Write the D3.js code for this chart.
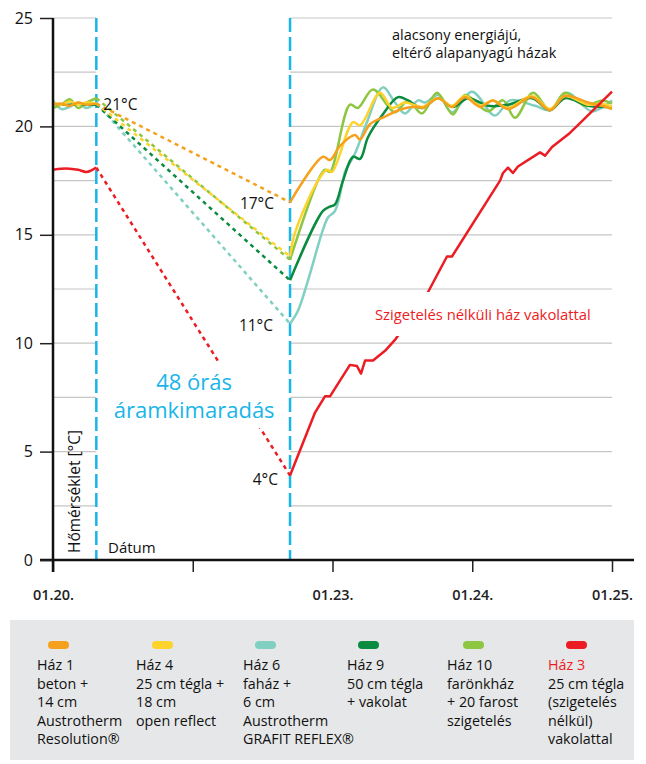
<!DOCTYPE html>
<html>
<head>
<meta charset="utf-8">
<script src="https://cdn.jsdelivr.net/npm/d3@7"></script>
<style>
  body { margin: 0; background: #fff; }
  svg text { font-family: "Open Sans", "Noto Sans", sans-serif; }
</style>
</head>
<body>
<div id="chart"></div>
<script>
// chart size, same as the window
const svgWidth = 646;
const svgHeight = 764;

// x is in "days" along the axis, y in degrees C
const xTickVals = [0, 1, 2, 3, 4];
const xTickLabels = ["01.20.", "", "01.23.", "01.24.", "01.25."];
const yTickVals = [0, 5, 10, 15, 20, 25];
const gridVals = [2.5, 5, 7.5, 10, 12.5, 15, 17.5, 20, 22.5, 25];

// start and end of the 48 hour power cut
const outage = [0.31, 1.696];

// readings before the power cut
const preX = [0, 0.06, 0.12, 0.18, 0.24, 0.31];
const haz1Pre = [21.0, 21.05, 20.95, 21.1, 21.0, 21.05];
const haz4Pre = [21.1, 21.0, 21.15, 21.0, 21.1, 21.05];
const haz6Pre = [21.2, 20.8, 20.9, 21.1, 20.85, 21.1];
const haz9Pre = [21.05, 21.0, 21.0, 21.05, 21.0, 21.0];
const haz10Pre = [20.85, 21.0, 21.25, 20.85, 21.1, 21.3];
const haz3Pre = [18.0, 18.05, 18.05, 18.0, 17.9, 18.1];

// readings after the power came back [x, temp]
const haz1Post = [[1.696,16.5],[1.932,18.6],[1.982,18.45],[2.054,19.1],[2.161,19.6],[2.197,19.4],[2.268,20.1],[2.376,20.45],[2.497,20.8],[2.612,20.9],[2.648,20.85],[2.755,21.3],[2.855,20.9],[2.948,21.35],[3.055,20.9],[3.148,21.2],[3.256,20.8],[3.428,21.35],[3.556,20.75],[3.664,21.4],[3.828,21.1],[3.928,20.95],[4.0,20.8]];
const haz4Post = [[1.696,14.0],[1.732,15.1],[1.896,17.5],[1.961,18.0],[1.996,17.9],[2.147,20.2],[2.197,20.05],[2.34,21.55],[2.426,20.85],[2.519,21.1],[2.64,20.9],[2.755,21.3],[2.855,20.95],[2.948,21.4],[3.055,20.95],[3.148,21.2],[3.256,20.85],[3.428,21.4],[3.556,20.8],[3.664,21.4],[3.828,21.0],[3.928,21.05],[4.0,20.9]];
const haz6Post = [[1.696,10.9],[1.753,11.5],[1.825,12.9],[1.925,15.1],[1.968,15.8],[2.018,16.1],[2.075,17.5],[2.089,17.9],[2.161,18.75],[2.247,20.2],[2.361,21.8],[2.447,21.1],[2.519,20.6],[2.612,21.2],[2.662,21.1],[2.755,21.45],[2.855,20.65],[2.998,21.6],[3.162,20.5],[3.27,21.2],[3.449,20.95],[3.556,20.75],[3.678,21.55],[3.857,20.7],[4.0,21.2]];
const haz9Post = [[1.696,12.9],[1.932,16.1],[1.982,16.3],[2.018,16.4],[2.075,17.5],[2.147,18.6],[2.197,18.5],[2.254,19.5],[2.354,20.5],[2.469,21.35],[2.54,21.2],[2.64,20.85],[2.755,21.3],[2.862,20.9],[2.97,21.3],[3.113,20.95],[3.256,21.0],[3.428,21.3],[3.556,20.75],[3.664,21.3],[3.828,20.95],[4.0,20.9]];
const haz10Post = [[1.696,13.85],[1.896,17.5],[1.946,18.0],[1.982,17.9],[2.125,21.0],[2.182,20.85],[2.29,21.7],[2.447,20.65],[2.54,21.2],[2.64,20.6],[2.748,21.55],[2.862,20.55],[2.948,21.45],[3.113,20.7],[3.22,21.2],[3.306,20.4],[3.435,21.55],[3.556,20.75],[3.664,21.55],[3.807,20.95],[3.928,21.2],[4.0,21.05]];
const haz3Post = [[1.696,3.9],[1.875,6.8],[1.946,7.55],[1.982,7.55],[2.125,9.0],[2.175,8.95],[2.204,8.6],[2.233,9.2],[2.29,9.2],[2.376,9.65],[2.447,10.15],[2.683,12.35],[2.819,14.0],[2.855,14.0],[3.199,17.5],[3.22,17.85],[3.256,18.1],[3.291,17.85],[3.327,18.15],[3.485,18.8],[3.521,18.65],[3.571,19.05],[3.699,19.7],[3.771,20.15],[4.0,21.6]];

// legend texts
const legendNames = ["Ház 1", "Ház 4", "Ház 6", "Ház 9", "Ház 10", "Ház 3"];
const legendLines = [
    ["beton +", "14 cm", "Austrotherm", "Resolution®"],
    ["25 cm tégla +", "18 cm", "open reflect"],
    ["faház +", "6 cm", "Austrotherm", "GRAFIT REFLEX®"],
    ["50 cm tégla", "+ vakolat"],
    ["farönkház", "+ 20 farost", "szigetelés"],
    ["25 cm tégla", "(szigetelés", "nélkül)", "vakolattal"]
];

const colors = {
    "Ház 1": "#f6a11d",
    "Ház 4": "#fdd32c",
    "Ház 6": "#80cfc1",
    "Ház 9": "#0b8b3f",
    "Ház 10": "#8dc641",
    "Ház 3": "#ec1c24"
};
const blue = "#19b5e9";

// group everything per house, drawing order matters (orange on top, red last)
const houses = [
    { name: "Ház 6", pre: haz6Pre, post: haz6Post },
    { name: "Ház 10", pre: haz10Pre, post: haz10Post },
    { name: "Ház 9", pre: haz9Pre, post: haz9Post },
    { name: "Ház 4", pre: haz4Pre, post: haz4Post },
    { name: "Ház 1", pre: haz1Pre, post: haz1Post },
    { name: "Ház 3", pre: haz3Pre, post: haz3Post }
];

const svg = d3.select("#chart")
    .append("svg")
    .attr("width", svgWidth)
    .attr("height", svgHeight);

const x = d3.scaleLinear().domain([0, 4]).range([53, 612]);
const y = d3.scaleLinear().domain([0, 25]).range([560, 18]);

// grid lines, left out inside the power cut zone
gridVals.forEach(function (g) {
    [[0, outage[0]], [outage[1], 4]].forEach(function (seg) {
        svg.append("line")
            .attr("x1", x(seg[0])).attr("x2", x(seg[1]))
            .attr("y1", y(g)).attr("y2", y(g))
            .attr("stroke", "#c6c6c6")
            .attr("stroke-width", 1.2);
    });
});

// blue dashed lines of the power cut
outage.forEach(function (o) {
    svg.append("line")
        .attr("x1", x(o)).attr("x2", x(o))
        .attr("y1", y(25)).attr("y2", y(0))
        .attr("stroke", blue)
        .attr("stroke-width", 2.5)
        .attr("stroke-dasharray", "14,5");
});

// texts that cut the red line
const midOut = x((outage[0] + outage[1]) / 2) + 1;
const outText1 = svg.append("text")
    .attr("x", midOut).attr("y", 390)
    .attr("text-anchor", "middle")
    .attr("fill", blue)
    .attr("font-size", "22px")
    .text("48 órás");
const outText2 = svg.append("text")
    .attr("x", midOut).attr("y", 418)
    .attr("text-anchor", "middle")
    .attr("fill", blue)
    .attr("font-size", "22px")
    .text("áramkimaradás");

const redText = svg.append("text")
    .attr("x", 375)
    .attr("y", 320)
    .attr("fill", colors["Ház 3"])
    .attr("font-size", "14.8px")
    .text("Szigetelés nélküli ház vakolattal");

// mask so the red line stops around the texts
const defs = svg.append("defs");
const mask = defs.append("mask").attr("id", "redGap")
    .attr("maskUnits", "userSpaceOnUse")
    .attr("x", 0).attr("y", 0).attr("width", svgWidth).attr("height", svgHeight);
mask.append("rect").attr("width", svgWidth).attr("height", svgHeight).attr("fill", "white");
[[outText1, 4], [outText2, 4], [redText, 12]].forEach(function (t) {
    const b = t[0].node().getBBox();
    mask.append("rect")
        .attr("x", b.x - 4).attr("y", b.y - t[1])
        .attr("width", b.width + 8).attr("height", b.height + 2 * t[1])
        .attr("fill", "black");
});

const line = d3.line().x(d => x(d[0])).y(d => y(d[1]));
const smooth = d3.line().x(d => x(d[0])).y(d => y(d[1])).curve(d3.curveCatmullRom.alpha(0.5));

houses.forEach(function (h) {
    const g = svg.append("g");
    if (h.name == "Ház 3") {
        g.attr("mask", "url(#redGap)");
    }
    const prePts = preX.map((v, i) => [v, h.pre[i]]);
    // dashed line during the power cut
    g.append("path")
        .attr("d", line([prePts[prePts.length - 1], h.post[0]]))
        .attr("fill", "none")
        .attr("stroke", colors[h.name])
        .attr("stroke-width", 2.5)
        .attr("stroke-dasharray", "4,4");
    g.append("path")
        .attr("d", smooth(prePts))
        .attr("fill", "none")
        .attr("stroke", colors[h.name])
        .attr("stroke-width", 2.5);
    g.append("path")
        .attr("d", h.name == "Ház 3" ? line(h.post) : smooth(h.post))
        .attr("fill", "none")
        .attr("stroke", colors[h.name])
        .attr("stroke-width", 2.5)
        .attr("stroke-linejoin", "round");
});

// value labels
function label(txt, px, py, anchor) {
    svg.append("text")
        .attr("x", px).attr("y", py)
        .attr("text-anchor", anchor)
        .attr("font-size", "15.5px")
        .attr("fill", "#111")
        .text(txt);
}
label("21°C", x(outage[0]) + 7, y(21) + 5, "start");
label("17°C", x(outage[1]) - 16, y(16.5) + 7, "end");
label("11°C", x(outage[1]) - 17, y(10.9) + 7, "end");
label("4°C", x(outage[1]) - 12, y(3.9) + 10, "end");

svg.append("text")
    .attr("x", 392).attr("y", 40)
    .attr("font-size", "14.5px")
    .attr("fill", "#111")
    .text("alacsony energiájú,");
svg.append("text")
    .attr("x", 392).attr("y", 58)
    .attr("font-size", "14.5px")
    .attr("fill", "#111")
    .text("eltérő alapanyagú házak");

// axes
const xAxis = svg.append("g")
    .attr("transform", `translate(0,${y(0)})`)
    .call(d3.axisBottom(x).tickValues(xTickVals).tickFormat((d, i) => xTickLabels[i]).tickSize(12).tickPadding(18));
xAxis.select(".domain").remove();
xAxis.selectAll(".tick line").attr("stroke", "#222").attr("stroke-width", 1.5);
xAxis.selectAll(".tick text")
    .attr("font-size", "14.5px")
    .attr("font-weight", "600")
    .attr("fill", "#222")
    .attr("font-family", "'Open Sans', sans-serif");

svg.append("line")
    .attr("x1", 40).attr("x2", 634)
    .attr("y1", y(0)).attr("y2", y(0))
    .attr("stroke", "#111").attr("stroke-width", 2.5);

const yAxis = svg.append("g")
    .attr("transform", `translate(${x(0)},0)`)
    .call(d3.axisLeft(y).tickValues(yTickVals).tickSize(13).tickPadding(7));
yAxis.select(".domain").remove();
yAxis.selectAll(".tick line").attr("stroke", "#222").attr("stroke-width", 1.5);
yAxis.selectAll(".tick text")
    .attr("font-size", "16px")
    .attr("fill", "#111")
    .attr("font-family", "'Open Sans', sans-serif");

svg.append("line")
    .attr("x1", x(0)).attr("x2", x(0))
    .attr("y1", y(25)).attr("y2", y(0) + 12)
    .attr("stroke", "#111").attr("stroke-width", 2.5);

svg.append("text")
    .attr("transform", `translate(80,553) rotate(-90)`)
    .attr("font-size", "15.5px")
    .attr("fill", "#111")
    .text("Hőmérséklet [°C]");
svg.append("text")
    .attr("x", 108).attr("y", 553)
    .attr("font-size", "15px")
    .attr("fill", "#111")
    .text("Dátum");

// legend box
svg.append("rect")
    .attr("x", 10).attr("y", 620)
    .attr("width", 624).attr("height", 140)
    .attr("fill", "#e6e7e8");

const legendX = [37, 136, 243, 347, 447, 548];
const swatchX = [48, 152, 255, 358, 463, 566];
legendNames.forEach(function (n, i) {
    svg.append("rect")
        .attr("x", swatchX[i]).attr("y", 641)
        .attr("width", 21).attr("height", 8)
        .attr("rx", 4)
        .attr("fill", colors[n]);
    const t = svg.append("text")
        .attr("font-size", "14.3px")
        .attr("fill", "#111");
    t.append("tspan")
        .attr("x", legendX[i]).attr("y", 670)
        .attr("fill", n == "Ház 3" ? colors[n] : "#111")
        .text(n);
    legendLines[i].forEach(function (l, j) {
        t.append("tspan")
            .attr("x", legendX[i]).attr("y", 670 + (j + 1) * 18.5)
            .text(l);
    });
});
</script>
</body>
</html>
